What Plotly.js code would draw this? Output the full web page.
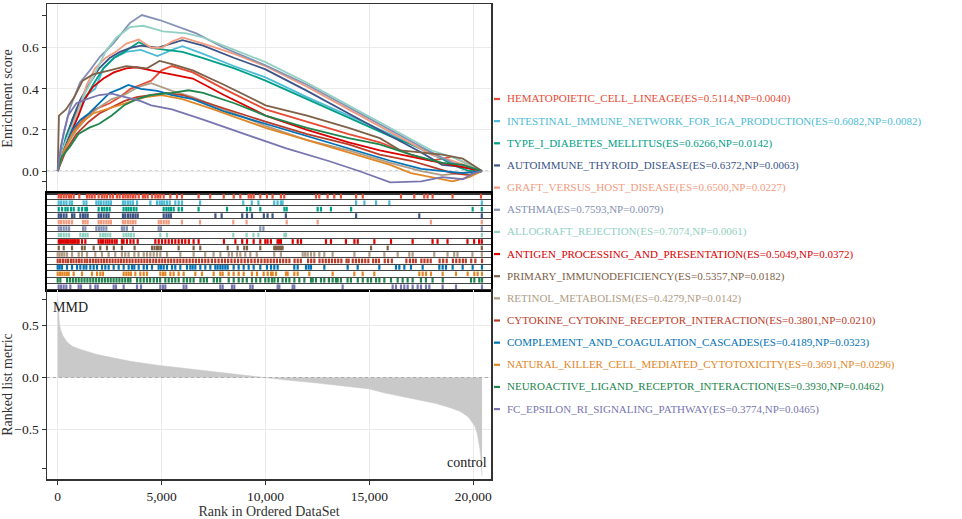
<!DOCTYPE html>
<html>
<head>
<meta charset="utf-8">
<script src="https://cdn.plot.ly/plotly-3.0.1.min.js"></script>
<style>html,body{margin:0;padding:0;background:#fff;}#chart{width:962px;height:519px;}</style>
</head>
<body>
<div id="chart"></div>
<script>
// ---------- DATA ----------
const setNames = ["HEMATOPOIETIC_CELL_LINEAGE","INTESTINAL_IMMUNE_NETWORK_FOR_IGA_PRODUCTION","TYPE_I_DIABETES_MELLITUS","AUTOIMMUNE_THYROID_DISEASE","GRAFT_VERSUS_HOST_DISEASE","ASTHMA","ALLOGRAFT_REJECTION","ANTIGEN_PROCESSING_AND_PRESENTATION","PRIMARY_IMMUNODEFICIENCY","RETINOL_METABOLISM","CYTOKINE_CYTOKINE_RECEPTOR_INTERACTION","COMPLEMENT_AND_COAGULATION_CASCADES","NATURAL_KILLER_CELL_MEDIATED_CYTOTOXICITY","NEUROACTIVE_LIGAND_RECEPTOR_INTERACTION","FC_EPSILON_RI_SIGNALING_PATHWAY"];
const esScores = ["0.5114","0.6082","0.6266","0.6372","0.6500","0.7593","0.7074","0.5049","0.5357","0.4279","0.3801","0.4189","0.3691","0.3930","0.3774"];
const npValues = ["0.0040","0.0082","0.0142","0.0063","0.0227","0.0079","0.0061","0.0372","0.0182","0.0142","0.0210","0.0323","0.0296","0.0462","0.0465"];

// running enrichment score curves (rank, score)
const esRank1 = [0,300,800,1300,1800,2500,3000,3500,4000,4500,5000,5500,6500,8000,10000,12000,14000,15500,17000,18000,19000,19800,20420];
const esVal1  = [0,0.10,0.20,0.26,0.30,0.33,0.36,0.40,0.42,0.44,0.49,0.511,0.48,0.40,0.30,0.24,0.18,0.14,0.08,0.05,0.07,0.03,0];
const esRank2 = [0,400,900,1400,1800,2200,2700,3300,4000,4800,5500,6000,7000,8500,10000,12000,14000,16000,18000,19000,20420];
const esVal2  = [0,0.15,0.30,0.37,0.40,0.50,0.55,0.58,0.59,0.56,0.59,0.608,0.57,0.51,0.456,0.36,0.27,0.18,0.08,0.04,0];
const esRank3 = [0,400,800,1200,1700,2200,2700,3200,3900,4500,5200,6000,7000,8500,10000,12000,14000,16000,18000,19000,19800,20420];
const esVal3  = [0,0.17,0.27,0.33,0.42,0.50,0.55,0.58,0.627,0.60,0.59,0.58,0.55,0.50,0.44,0.35,0.26,0.17,0.09,0.03,0.0,0];
const esRank4 = [0,300,700,1100,1500,2000,2500,3000,3500,4000,4800,5500,6000,7000,8500,10000,12000,14000,16000,17500,18500,19500,20420];
const esVal4  = [0,0.12,0.25,0.35,0.42,0.50,0.55,0.58,0.60,0.61,0.60,0.62,0.637,0.61,0.55,0.495,0.39,0.28,0.17,0.09,0.03,0.02,0];
const esRank5 = [0,300,700,1000,1400,1800,2300,2800,3300,3900,4500,5000,5500,6000,7000,8500,10000,12000,14000,16000,18000,19000,20420];
const esVal5  = [0,0.10,0.22,0.30,0.42,0.50,0.55,0.58,0.62,0.64,0.60,0.60,0.63,0.65,0.62,0.57,0.51,0.41,0.30,0.19,0.08,0.05,0];
const esRank6 = [0,270,600,1070,1550,2030,2670,3150,3470,4050,4900,6670,8000,10000,12000,14000,16000,18000,19000,20420];
const esVal6  = [0,0.18,0.31,0.43,0.49,0.556,0.62,0.68,0.72,0.759,0.735,0.67,0.60,0.515,0.42,0.31,0.20,0.09,0.04,0];
const esRank7 = [0,300,600,910,1230,1870,2350,2830,3470,4110,5070,6190,7000,8500,10000,12000,14000,16000,18000,19200,20420];
const esVal7  = [0,0.12,0.20,0.26,0.36,0.49,0.59,0.65,0.70,0.707,0.68,0.67,0.65,0.59,0.53,0.43,0.32,0.21,0.10,0.06,0];
const esRank8 = [0,300,700,1000,1300,1700,2200,2700,3300,3800,4500,5500,6500,8000,10000,12000,14000,15500,17000,18500,19500,20420];
const esVal8  = [0,0.10,0.20,0.27,0.35,0.41,0.45,0.48,0.50,0.505,0.49,0.47,0.45,0.37,0.27,0.20,0.14,0.10,0.07,0.04,0.02,0];
const esRank9 = [0,60,400,800,1200,1700,2500,3300,4300,4900,5500,6500,8000,10000,12000,14000,15500,16500,18500,19500,20420];
const esVal9  = [0,0.27,0.30,0.36,0.44,0.47,0.49,0.51,0.50,0.536,0.52,0.49,0.42,0.32,0.27,0.21,0.16,0.10,0.08,0.06,0];
const esRank10 = [0,400,900,1500,2000,2600,3200,3900,4500,5500,6500,8000,10000,12000,14000,16000,17500,18500,19500,20420];
const esVal10  = [0,0.12,0.20,0.27,0.31,0.35,0.37,0.41,0.428,0.39,0.36,0.30,0.22,0.15,0.10,0.04,0.0,-0.02,-0.01,0];
const esRank11 = [0,400,900,1500,2000,2600,3200,3800,4500,5200,6000,7500,10000,12000,14000,15500,17000,18000,19000,19800,20420];
const esVal11  = [0,0.10,0.18,0.24,0.28,0.31,0.34,0.36,0.37,0.38,0.37,0.32,0.24,0.18,0.13,0.08,0.05,0.02,-0.01,-0.02,0];
const esRank12 = [0,300,700,1100,1500,2000,2500,3000,3400,4000,4800,5500,6500,8000,10000,12000,14000,16000,17500,18500,19500,20420];
const esVal12  = [0,0.10,0.20,0.25,0.28,0.33,0.38,0.40,0.419,0.40,0.39,0.37,0.35,0.29,0.23,0.17,0.11,0.05,0.01,0.0,-0.01,0];
const esRank13 = [0,300,700,1200,1700,2300,2900,3500,4200,5000,6000,7500,10000,12000,14000,16000,17000,18000,19000,19800,20420];
const esVal13  = [0,0.10,0.18,0.24,0.28,0.30,0.32,0.34,0.36,0.369,0.35,0.30,0.21,0.15,0.09,0.03,-0.01,-0.03,-0.05,-0.03,0];
const esRank14 = [0,200,600,1000,1500,2000,2600,3200,3800,4500,5500,6300,7000,8500,10000,12000,14000,15500,17000,18500,19500,20420];
const esVal14  = [0,0.07,0.12,0.18,0.21,0.23,0.27,0.32,0.35,0.37,0.38,0.393,0.38,0.33,0.27,0.21,0.16,0.13,0.08,0.04,0.03,0];
const esRank15 = [0,150,500,900,1400,2000,2600,3200,4000,4500,5500,7000,9000,11000,13000,14500,16000,17500,18500,19500,20000,20420];
const esVal15  = [0,0.12,0.27,0.33,0.35,0.37,0.377,0.36,0.34,0.32,0.30,0.25,0.18,0.11,0.05,0.0,-0.055,-0.05,-0.03,-0.04,-0.01,0];

// gene-set hit ranks
const hits1 = [46,160,290,415,545,640,770,1040,1410,1530,1650,1780,1970,2130,2250,2370,2530,2660,2850,2980,3140,3260,3380,3500,3620,3740,3900,4100,4210,4330,4540,4700,4820,4940,5100,5420,5740,5980,6780,7340,7990,8470,8790,9190,9310,9430,9750,10070,10340,10740,10900,12430,12590,12990,13310,13630,14360,14680,16520,17160,17640,17800,18040,19000,20370];
const hits2 = [46,160,290,420,575,690,1250,1380,1860,1970,2080,2210,2340,2450,2560,3140,3250,3380,3500,3620,3820,4460,4780,4910,5020,5130,5260,5390,5660,5820,5980,6850,8930,9340,9660,10420,10580,10740,10820,14360,14760,15320,15960,20410];
const hits3 = [50,210,370,480,640,770,1010,1170,1330,1410,1970,2130,2245,2370,2500,3170,3300,3410,3530,3660,3790,5100,5230,5340,5450,5580,5820,5980,6780,8150,9110,9270,9750,10910,11020,12510,12670,13150,14120,19970,20410];
const hits4 = [50,160,290,420,690,800,1090,1220,1330,1440,1970,2080,2210,2340,2450,3140,3250,3380,3500,3620,3740,3850,5100,5230,5340,5450,7590,7890,8880,9110,9350,9920,10100,10340,10980,14360,17400,20410];
const hits5 = [50,160,290,420,550,690,1220,1330,1440,1970,2080,2210,2340,2450,2560,3140,3250,3380,3500,3620,3740,4860,4970,5100,5230,5340,5980,6850,8450,9090,11020,12510,17960,20410];
const hits6 = [50,160,290,420,550,1220,1330,1860,1980,2100,2210,2340,3090,3200,3330,3620,4860,4970,9750,9900,20410];
const hits7 = [50,160,290,420,550,1090,1220,1330,1440,2050,2180,2290,2400,2530,3170,3300,3410,3530,3660,4940,5260,8450,9090,9420,9660,10910,10990,20410];
const hits8 = [50,120,200,290,370,450,530,620,700,780,860,950,1010,1170,1330,1970,2080,2180,2300,2400,2500,2620,2740,2840,3090,3170,3330,3500,3650,3850,4700,4860,5020,5180,5340,5500,5660,5820,5980,6140,6310,6540,6780,8000,8550,8880,9110,9430,9750,9990,10100,10260,10580,10660,10740,11310,11550,11710,12910,13150,13870,14280,14440,15240,16040,17080,18040,18280,18760,19720,20040,20280,20410];
const hits9 = [50,290,690,1170,1300,1730,2050,2370,2700,3090,3700,4540,4660,4780,4860,4970,5820,6540,6860,8180,8660,8980,9110,9750,10420,10500,10580,10660,10740,10820,15080,15880,20410];
const hits10 = [0,95,210,320,450,690,1010,1170,1410,1810,2130,2450,2770,3090,3250,3410,3690,3890,4140,4300,4460,4620,4780,4940,5260,5900,6540,7100,7500,7830,8230,8390,8630,8790,9030,9270,9580,10420,10740,11790,11910,12030,12190,12350,12590,12830,13230,14280,15000,15720,16360,16920,17080,18120,18760,19080,19240,19960,20410];
const hits11 = [0,120,250,380,500,640,760,900,1030,1150,1300,1420,1560,1700,1830,1960,2100,2230,2360,2500,2640,2780,2920,3050,3180,3320,3460,3600,3750,3890,4030,4170,4310,4450,4600,4740,4890,5030,5170,5320,5460,5610,5760,5900,6050,6200,6350,6500,6650,6800,6950,7100,7250,7420,7580,7740,7900,8050,8200,8360,8520,8680,8840,9000,9160,9320,9480,9640,9800,9960,10100,10250,10400,10550,10700,10850,11000,11150,11400,11550,11700,12050,12200,12350,12600,12750,12900,13050,13200,13350,13500,13650,13900,14000,14200,14350,14500,14650,14800,14950,15180,15320,15460,15740,15900,16080,16780,16950,17100,17230,17500,17650,17800,17950,18380,18550,18720,19020,19180,19340,19500,19640,19900,20100,20420];
const hits12 = [0,95,207,447,688,929,1089,1249,1378,1570,1731,1891,2132,2292,2452,2693,2934,3174,3415,3575,3687,3896,4137,4297,4538,4858,4971,5099,5259,5500,5660,5901,6222,6382,6494,6623,6863,7104,7345,7585,7697,7826,7938,8066,8179,8467,8708,8949,9189,9430,9750,10071,10265,10425,10585,11387,11548,11949,12077,12189,12831,13954,14435,15478,16280,16440,16681,17001,17563,18365,18525,18686,19006,19488,19969,20418];
const hits13 = [0,110,220,330,440,530,768,1169,1650,1891,2051,2180,3174,3303,3415,3527,3736,3976,4137,4297,4939,5067,5179,5420,5580,5821,6061,6623,6944,7505,7826,7938,8227,8467,8708,8949,9350,9590,9911,10104,10265,10345,10505,10986,11067,11387,11548,12109,13232,14275,14676,15237,17402,17563,17723,17964,18525,19167,19728,20049,20209,20418];
const hits14 = [0,127,450,590,730,870,1010,1150,1290,1430,1570,1710,1850,1990,2130,2270,2410,2550,2690,2830,2970,3110,3250,3390,3500,3820,3980,4140,4300,4450,4620,4780,4930,5180,5340,5500,5660,5820,6060,6220,6380,6540,6870,7030,7180,7510,7670,7820,8230,8470,8710,8900,9100,9350,9550,9750,9990,10150,10310,10430,10600,10820,10990,11150,11390,11630,11870,12190,12270,12430,12670,12830,13050,13230,13390,13470,13630,13950,14110,14440,14680,14920,15080,15320,15480,15720,16040,16360,16600,16840,17080,17480,17720,18040,18530,19890,20050,20290,20420];
const hits15 = [46,159,287,415,608,1009,1121,1570,1811,1923,2693,2805,3174,3816,4008,4939,5067,5179,6061,6190,7826,7938,8387,8499,9270,9382,10585,10666,11307,11387,13713,16119,16280,16520,16681,16841,17082,17322,17483,17723,17884,18525,19167,20418];

// ranked list metric (rank, metric)
const metricRank  = [0,30,80,150,250,450,700,1100,1900,2700,3500,4800,6000,7500,9000,9900,11000,12500,14000,15000,15750,16500,17350,18200,18960,19400,19760,19950,20080,20200,20320,20380,20420];
const metricValue = [0.76,0.70,0.52,0.45,0.40,0.34,0.30,0.27,0.22,0.185,0.155,0.118,0.09,0.054,0.02,0.0,-0.025,-0.054,-0.09,-0.11,-0.15,-0.18,-0.215,-0.25,-0.295,-0.33,-0.38,-0.43,-0.47,-0.55,-0.69,-0.82,-0.95];

const xTicks = [0,5000,10000,15000,20000];
const esTicks = [0,0.2,0.4,0.6];
const esExtraTicks = [-0.052,0.759];
const metricTicks = [-0.5,0,0.5];
const metricExtraTicks = [-0.873,0.745];
const groupLabels = ["MMD","control"];

// ---------- STYLE ----------
const palette = ['#E64B35','#4DBBD5','#00A087','#3C5488','#F39B7F','#8491B4','#91D1C2','#DC0000','#7E6148','#B09C85','#BC3C29','#0072B5','#E18727','#20854E','#7876B1'];
const serif = '"Liberation Serif", "Times New Roman", serif';

const esRanks = [esRank1,esRank2,esRank3,esRank4,esRank5,esRank6,esRank7,esRank8,esRank9,esRank10,esRank11,esRank12,esRank13,esRank14,esRank15];
const esVals = [esVal1,esVal2,esVal3,esVal4,esVal5,esVal6,esVal7,esVal8,esVal9,esVal10,esVal11,esVal12,esVal13,esVal14,esVal15];
const hitSets = [hits1,hits2,hits3,hits4,hits5,hits6,hits7,hits8,hits9,hits10,hits11,hits12,hits13,hits14,hits15];

const traces = [];
setNames.forEach((n,i)=>{
  traces.push({type:'scatter',mode:'lines',x:esRanks[i],y:esVals[i],xaxis:'x',yaxis:'y',
    line:{color:palette[i],width:1.8},name:n,showlegend:false,hoverinfo:'skip'});
});
setNames.forEach((n,i)=>{
  const xs=[],ys=[];const row=i+1;
  hitSets[i].forEach(h=>{xs.push(h,h,null);ys.push(row-0.36,row+0.36,null);});
  traces.push({type:'scatter',mode:'lines',x:xs,y:ys,xaxis:'x2',yaxis:'y2',
    line:{color:palette[i],width:2.2},showlegend:false,hoverinfo:'skip'});
});
traces.push({type:'scatter',mode:'lines',x:metricRank,y:metricValue,xaxis:'x3',yaxis:'y3',
  fill:'tozeroy',fillcolor:'#c9c9c9',line:{color:'#c9c9c9',width:0.5},showlegend:false,hoverinfo:'skip'});

const W=962,H=519, mL=47, mR=471, mT=4, mB=40;
const pw=W-mL-mR, ph=H-mT-mB;
const py = p => (H-mB-p)/ph;
const px = p => (p-mL)/pw;

const tickFont={family:serif,size:13.5,color:'#222'};
const titleFont={family:serif,size:14,color:'#333'};
const gridC='#ebebeb';
const xRange=[-515,20852];

const layout={
  width:W,height:H,margin:{l:mL,r:mR,t:mT,b:mB},
  paper_bgcolor:'#fff',plot_bgcolor:'#fff',showlegend:false,
  font:{family:serif},
  xaxis:{domain:[0,1],anchor:'y',range:xRange,tickmode:'array',tickvals:xTicks,showticklabels:false,ticks:'',
    showgrid:true,gridcolor:gridC,gridwidth:1,zeroline:false,showline:true,mirror:true,linecolor:'#333',linewidth:1.5},
  yaxis:{domain:[py(193),1],anchor:'x',range:[-0.107,0.813],tickmode:'array',tickvals:esTicks,tickformat:'.1f',
    ticks:'outside',ticklen:4,tickcolor:'#333',tickfont:tickFont,showgrid:true,gridcolor:gridC,zeroline:false,
    showline:true,mirror:true,linecolor:'#333',linewidth:1.5,
    minor:{tickmode:'array',tickvals:esExtraTicks,ticks:'outside',ticklen:4,tickcolor:'#333',showgrid:false},
    title:{text:'Enrichment score',font:titleFont,standoff:6}},
  xaxis2:{domain:[0,1],anchor:'y2',matches:'x',range:xRange,showticklabels:false,ticks:'',showgrid:false,zeroline:false,
    showline:true,mirror:true,linecolor:'#000',linewidth:2},
  yaxis2:{domain:[py(290),py(193)],anchor:'x2',range:[15.5,0.5],tickmode:'array',
    tickvals:[1.5,2.5,3.5,4.5,5.5,6.5,7.5,8.5,9.5,10.5,11.5,12.5,13.5,14.5],showticklabels:false,ticks:'',
    showgrid:true,gridcolor:'#444',gridwidth:1,zeroline:false,showline:true,mirror:true,linecolor:'#000',linewidth:2},
  xaxis3:{domain:[0,1],anchor:'y3',matches:'x',range:xRange,tickmode:'array',tickvals:xTicks,tickformat:',d',
    ticks:'outside',ticklen:4,tickcolor:'#333',tickfont:tickFont,showgrid:true,gridcolor:gridC,zeroline:false,
    showline:true,mirror:true,linecolor:'#333',linewidth:1.5,
    title:{text:'Rank in Ordered DataSet',font:titleFont,standoff:2}},
  yaxis3:{domain:[0,py(290)],anchor:'x3',range:[-0.976,0.841],tickmode:'array',tickvals:metricTicks,tickformat:'.1f',
    ticks:'outside',ticklen:4,tickcolor:'#333',tickfont:tickFont,showgrid:true,gridcolor:gridC,zeroline:false,
    showline:true,mirror:true,linecolor:'#333',linewidth:1.5,
    minor:{tickmode:'array',tickvals:metricExtraTicks,ticks:'outside',ticklen:4,tickcolor:'#333',showgrid:false},
    title:{text:'Ranked list metric',font:titleFont,standoff:6}},
  shapes:[
    {type:'line',xref:'x domain',yref:'y',x0:0,x1:1,y0:0,y1:0,line:{color:'#aaa',width:1.2,dash:'dot'},layer:'below'},
    {type:'line',xref:'x3 domain',yref:'y3',x0:0,x1:1,y0:0,y1:0,line:{color:'#aaa',width:1.2,dash:'dot'},layer:'above'}
  ],
  annotations:[
    {xref:'x3 domain',yref:'y3 domain',x:0.008,y:0.91,xanchor:'left',yanchor:'middle',text:groupLabels[0],showarrow:false,font:{family:serif,size:14,color:'#222'}},
    {xref:'x3 domain',yref:'y3 domain',x:0.995,y:0.085,xanchor:'right',yanchor:'middle',text:groupLabels[1],showarrow:false,font:{family:serif,size:14,color:'#222'}}
  ]
};

const legTop=99, legStep=22.15;
setNames.forEach((n,i)=>{
  const yp=legTop+i*legStep;
  layout.shapes.push({type:'line',xref:'paper',yref:'paper',x0:px(494),x1:px(500),y0:py(yp),y1:py(yp),line:{color:palette[i],width:2.2}});
  layout.annotations.push({xref:'paper',yref:'paper',x:px(505),y:py(yp),xanchor:'left',yanchor:'middle',showarrow:false,
    text:n+'(ES='+esScores[i]+',NP='+npValues[i]+')',font:{family:serif,size:11,color:palette[i]}});
});

Plotly.newPlot('chart',traces,layout,{staticPlot:true,displayModeBar:false});
</script>
</body>
</html>
